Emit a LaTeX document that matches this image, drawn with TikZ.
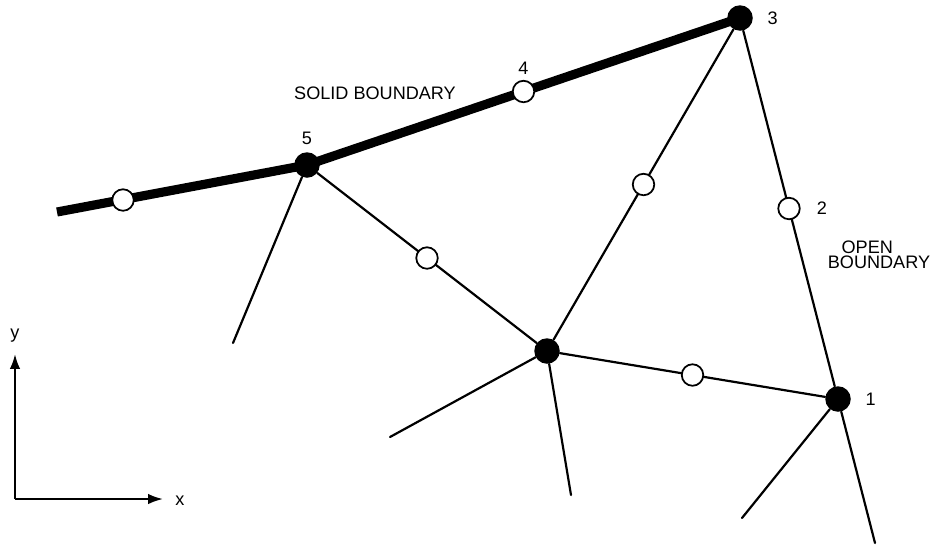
\documentclass[tikz,border=0pt]{standalone}
\usepackage{fontspec}
\setmainfont{Liberation Sans}
\usetikzlibrary{arrows.meta,positioning}
\begin{document}
\begin{tikzpicture}[x=0.02cm, y=-0.02cm, line cap=round, line join=round,
    fixed/.style={circle, fill=black, inner sep=0pt, minimum size=0.51cm},
    free/.style={circle, draw=black, fill=white, line width=1pt, inner sep=0pt, minimum size=0.43cm},
    link/.style={line width=1.25pt},
    wall/.style={line width=5.2pt, line cap=butt},
    lbl/.style={inner sep=1pt, font=\fontsize{10.3pt}{8.8pt}\selectfont},
    axis/.style={line width=1.25pt, line cap=butt, -{Latex[length=8.5pt,width=6pt]}}]
  \useasboundingbox (0,0) rectangle (935,545);
  % fixed nodes
  \node[fixed] (n1) at (838,399) {};
  \node[fixed] (n3) at (740,18) {};
  \node[fixed] (n5) at (307,165) {};
  \node[fixed] (nc) at (547,351) {};
  % loose ends
  \coordinate (w0) at (57,212);
  \coordinate (e5) at (233,343);
  \coordinate (ec1) at (390,437);
  \coordinate (ec2) at (571,495);
  \coordinate (e11) at (742,518);
  \coordinate (e12) at (875,543);
  % grid lines
  \draw[link] (n5) -- (e5);
  \draw[link] (n5) -- (nc);
  \draw[link] (nc) -- (n3);
  \draw[link] (nc) -- (n1);
  \draw[link] (nc) -- (ec1);
  \draw[link] (nc) -- (ec2);
  \draw[link] (n3) -- (n1);
  \draw[link] (n1) -- (e11);
  \draw[link] (n1) -- (e12);
  % solid boundary
  \draw[wall] (w0) -- (n5.center) -- (n3.center);
  % midside nodes
  \node[free] (m0) at (123,200) {};
  \path (n5) -- node[free] (n4) {} (n3);
  \path (n3) -- node[free] (n2) {} (n1);
  \path (n5) -- node[free] (m1) {} (nc);
  \path (nc) -- node[free] (m2) {} (n3);
  \path (nc) -- node[free] (m3) {} (n1);
  % numbers
  \node[lbl, right=7pt of n1] (t1) {1};
  \node[lbl, right=8pt of n2] (t2) {2};
  \node[lbl, right=7pt of n3] (t3) {3};
  \node[lbl, above=2pt of n4] (t4) {4};
  \node[lbl, above=3pt of n5] (t5) {5};
  \node[lbl] (solid) at (375,93) {SOLID BOUNDARY};
  \node[lbl, align=center] (open) at (879,255) {OPEN\hspace*{1.3em}\\BOUNDARY};
  % axes
  \coordinate (o) at (15,499);
  \coordinate (ya) at (15,354);
  \coordinate (xa) at (163,499);
  \draw[axis] (o) -- (ya);
  \draw[axis] (o) -- (xa);
  \node[lbl] (ylab) at (15,336) {y};
  \node[lbl] (xlab) at (180,501) {x};
\end{tikzpicture}
\end{document}
